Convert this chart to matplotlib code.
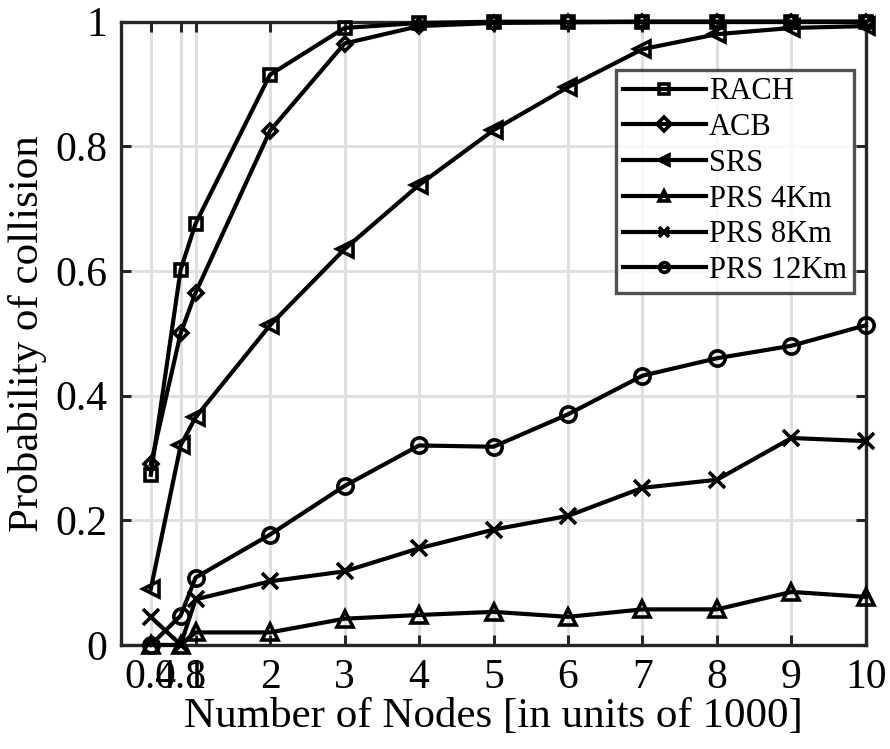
import matplotlib
matplotlib.use("Agg")
import matplotlib.pyplot as plt

x = [0.4, 0.8, 1, 2, 3, 4, 5, 6, 7, 8, 9, 10]
rach = [0.273, 0.602, 0.676, 0.915, 0.99, 0.998, 1.0, 1.0, 1.0, 1.0, 1.0, 1.0]
acb = [0.29, 0.50, 0.565, 0.825, 0.965, 0.993, 0.998, 0.999, 1.0, 1.0, 1.0, 1.0]
srs = [0.09, 0.32, 0.365, 0.513, 0.635, 0.738, 0.826, 0.895, 0.956, 0.98, 0.99, 0.993]
prs4 = [0.0, 0.0, 0.02, 0.02, 0.042, 0.048, 0.053, 0.045, 0.057, 0.057, 0.085, 0.077]
prs8 = [0.045, 0.0, 0.073, 0.102, 0.118, 0.155, 0.185, 0.207, 0.252, 0.265, 0.332, 0.327]
prs12 = [0.0, 0.047, 0.108, 0.177, 0.255, 0.32, 0.318, 0.37, 0.432, 0.46, 0.48, 0.513]

series = [("RACH", rach, "s"), ("ACB", acb, "D"), ("SRS", srs, "<"),
          ("PRS 4Km", prs4, "^"), ("PRS 8Km", prs8, "x"), ("PRS 12Km", prs12, "o")]
xticks = [0.4, 0.8, 1, 2, 3, 4, 5, 6, 7, 8, 9, 10]
xticklabels = ["0.4", "0.8", "1", "2", "3", "4", "5", "6", "7", "8", "9", "10"]
yticks = [0, 0.2, 0.4, 0.6, 0.8, 1]
yticklabels = ["0", "0.2", "0.4", "0.6", "0.8", "1"]

plt.rcParams['font.family'] = ['Liberation Serif', 'DejaVu Serif']
fig = plt.figure(figsize=(8.9, 7.49), dpi=100)
ax = fig.add_axes([0.136, 0.139, 0.837, 0.832])

sizes = {"s": 8, "D": 7, "<": 11, "^": 11, "x": 11, "o": 11}
for name, y, m in series:
    ax.plot(x, y, color="black", lw=3, marker=m, markersize=sizes[m],
            markerfacecolor="none", markeredgecolor="black", markeredgewidth=2.6,
            label=name, clip_on=False, zorder=3)

ax.set_xlim(0, 10)
ax.set_ylim(0, 1)
ax.set_xticks(xticks)
ax.set_xticklabels(xticklabels)
ax.set_yticks(yticks)
ax.set_yticklabels(yticklabels)
ax.grid(True, color="#e0e0e0", lw=2.2)
ax.set_axisbelow(True)
for s in ax.spines.values():
    s.set_color("#262626")
    s.set_linewidth(2.4)
ax.tick_params(direction="in", top=True, right=True, length=7, width=2.2,
               color="#262626", labelsize=30, pad=10)
ax.set_xlabel("Number of Nodes [in units of 1000]", fontsize=31, labelpad=0)
ax.set_ylabel("Probability of collision", fontsize=31, labelpad=6)

leg = ax.legend(loc="upper right", bbox_to_anchor=(0.9845, 0.923), fontsize=22,
                frameon=True, fancybox=False, edgecolor="#262626",
                handlelength=2.7, handletextpad=0.1, labelspacing=0.22,
                borderpad=0.25, borderaxespad=0)
leg.get_frame().set_linewidth(2.4)
for h in leg.legend_handles:
    h.set_markersize(7)

fig.savefig("out.png", dpi=100)
